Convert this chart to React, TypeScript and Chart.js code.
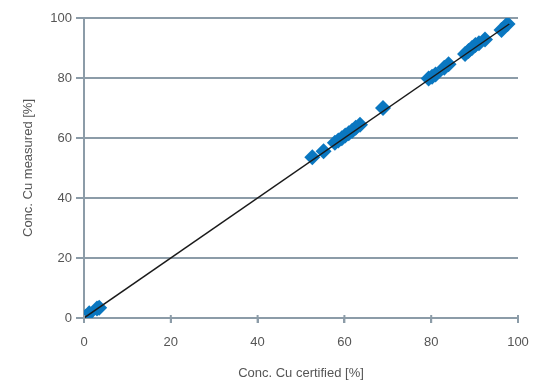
import React, { useEffect, useRef } from "react";
import { Chart, registerables } from "chart.js";

Chart.register(...registerables);

const certified = [0, 0.4, 1.2, 3.0, 3.5, 52.6, 55.2, 57.8, 58.6, 59.4, 60.2, 61.0, 61.8, 62.6, 63.6, 68.9, 79.4, 80.2, 81.0, 83.0, 84.0, 87.8, 88.6, 89.4, 90.2, 91.0, 92.4, 96.2, 97.6];
const measured = [0, 0.4, 1.6, 3.2, 3.4, 53.6, 55.6, 58.4, 59.2, 59.9, 60.8, 61.6, 62.4, 63.4, 64.4, 70.0, 79.8, 80.4, 81.2, 83.4, 84.6, 88.0, 89.0, 90.0, 91.0, 91.6, 92.8, 96.0, 98.0];
const fitLine = [0, 98];
const xTicks = [0, 20, 40, 60, 80, 100];
const yTicks = [0, 20, 40, 60, 80, 100];
const xTitle = "Conc. Cu certified [%]";
const yTitle = "Conc. Cu measured [%]";

const axisColor = "#8c9ca8";
const textColor = "#555555";
const fontFamily = "'Liberation Sans', Arial, sans-serif";

const xTickMarks = {
  id: "xTickMarks",
  afterDraw(chart: any) {
    const x = chart.scales.x;
    const ctx = chart.ctx;
    const b = chart.chartArea.bottom;
    ctx.save();
    ctx.strokeStyle = axisColor;
    ctx.lineWidth = 2;
    xTicks.forEach((v) => {
      const px = x.getPixelForValue(v);
      ctx.beginPath();
      ctx.moveTo(px, b - 3);
      ctx.lineTo(px, b + 5);
      ctx.stroke();
    });
    ctx.restore();
  },
};

export default function App() {
  const ref = useRef<HTMLCanvasElement>(null);
  useEffect(() => {
    if (!ref.current) return;
    const chart = new Chart(ref.current, {
      type: "scatter",
      data: {
        datasets: [
          {
            type: "line",
            data: fitLine.map((v) => ({ x: v, y: v })),
            borderColor: "#1a1a1a",
            borderWidth: 1.5,
            pointRadius: 0,
            order: 0,
          } as any,
          {
            data: certified.map((c, i) => ({ x: c, y: measured[i] })),
            backgroundColor: "#0a77c0",
            borderColor: "#0a77c0",
            pointStyle: "rectRot",
            pointRadius: 8,
            borderWidth: 0,
            order: 1,
          },
        ],
      },
      options: {
        responsive: false,
        animation: false,
        layout: { padding: { top: 18, right: 15, left: 0, bottom: 0 } },
        plugins: { legend: { display: false }, tooltip: { enabled: false } },
        scales: {
          x: {
            type: "linear",
            min: 0,
            max: 100,
            afterBuildTicks: (s: any) => {
              s.ticks = xTicks.map((v) => ({ value: v }));
            },
            afterFit: (s: any) => {
              s.height = 63;
              s.paddingLeft = 0;
              s.paddingRight = 0;
            },
            border: { display: true, color: axisColor, width: 2 },
            grid: { drawOnChartArea: false, drawTicks: true, tickLength: 5, color: axisColor, lineWidth: 2 },
            ticks: { color: textColor, font: { family: fontFamily, size: 13 }, padding: 12 },
            title: { display: true, text: xTitle, color: textColor, font: { family: fontFamily, size: 13 }, padding: { top: 0, bottom: 0 } },
          },
          y: {
            type: "linear",
            min: 0,
            max: 100,
            afterBuildTicks: (s: any) => {
              s.ticks = yTicks.map((v) => ({ value: v }));
            },
            afterFit: (s: any) => {
              s.width = 84;
              s.paddingTop = 0;
              s.paddingBottom = 0;
            },
            border: { display: true, color: axisColor, width: 2 },
            grid: { color: axisColor, lineWidth: 2, tickLength: 8 },
            ticks: { color: textColor, font: { family: fontFamily, size: 13 }, padding: 4 },
            title: { display: true, text: yTitle, color: textColor, font: { family: fontFamily, size: 13 }, padding: { top: 21, bottom: 0 } },
          },
        },
      },
      plugins: [xTickMarks],
    });
    return () => chart.destroy();
  }, []);
  return (
    <div style={{ position: "absolute", left: 0, top: 0, width: 533, height: 381, background: "#fff" }}>
      <canvas ref={ref} width={533} height={381} style={{ width: 533, height: 381 }} />
    </div>
  );
}
